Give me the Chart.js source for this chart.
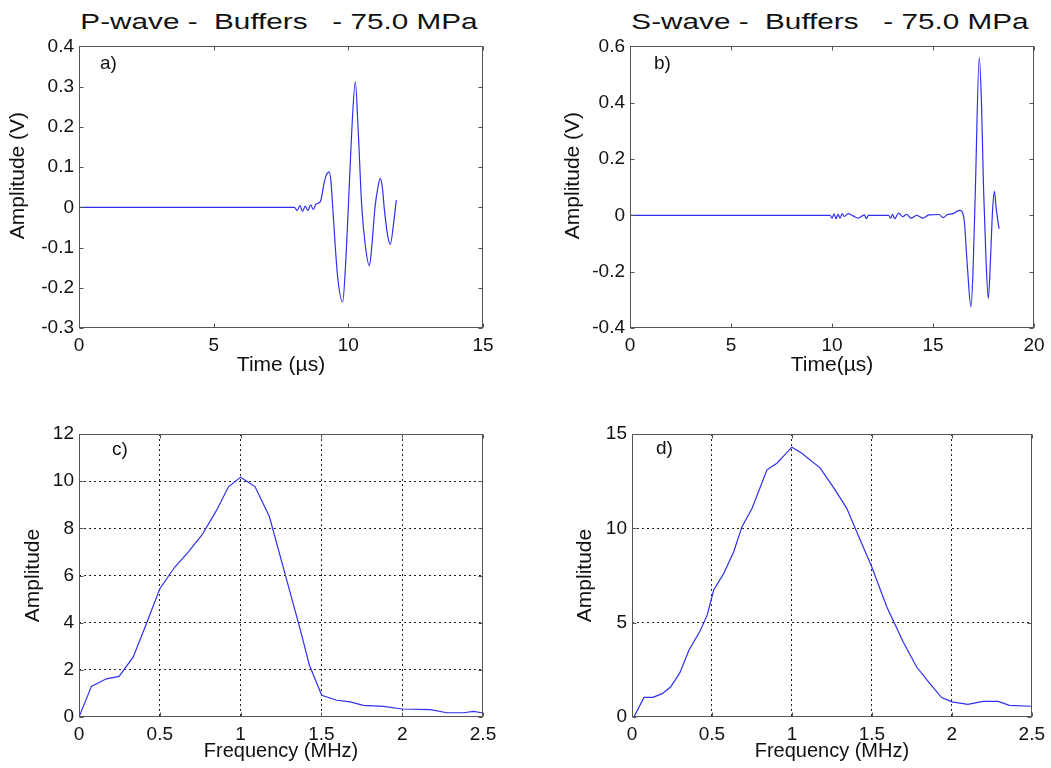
<!DOCTYPE html>
<html>
<head>
<meta charset="utf-8">
<script src="https://cdn.jsdelivr.net/npm/chart.js@4.4.1/dist/chart.umd.min.js"></script>
<style>
  body { margin: 0; width: 1051px; height: 768px; background: #fff; position: relative; overflow: hidden; }
  .title {
    position: absolute; top: 11px; font: 22px "Liberation Sans", Arial, sans-serif; line-height: 1;
    color: #111; white-space: pre; transform: translateX(-50%) scaleX(1.35);
  }
  canvas { position: absolute; }
</style>
</head>
<body>
<div class="title" style="left:279px">P-wave -  Buffers   - 75.0 MPa</div>
<div class="title" style="left:830px">S-wave -  Buffers   - 75.0 MPa</div>
<canvas id="pWave" width="520" height="370" style="left:0;top:30px"></canvas>
<canvas id="sWave" width="511" height="370" style="left:540px;top:30px"></canvas>
<canvas id="pSpectrum" width="520" height="368" style="left:0;top:400px"></canvas>
<canvas id="sSpectrum" width="511" height="368" style="left:540px;top:400px"></canvas>
<script>
// P-wave trace (time in µs, amplitude in V)
const pTime = [0, 8.0, 8.1, 8.2, 8.3, 8.4, 8.5, 8.6, 8.7, 8.8, 8.96, 9.1, 9.18, 9.29, 9.36, 9.42, 9.6, 9.79, 9.9, 10.0,
  10.12, 10.26, 10.36, 10.5, 10.64, 10.78, 10.88, 10.99, 11.1, 11.19, 11.27, 11.33, 11.46, 11.56, 11.68, 11.78];
const pAmp = [0, 0, -0.008, 0.004, -0.01, 0.003, -0.008, 0.006, -0.005, 0.008, 0.014, 0.06, 0.08, 0.088, 0.06, 0, -0.17, -0.235, -0.14, 0,
  0.18, 0.312, 0.2, 0, -0.1, -0.145, -0.09, 0, 0.05, 0.072, 0.045, 0, -0.07, -0.092, -0.04, 0.018];

// S-wave trace
const sTime = [0, 9.9, 10.0, 10.1, 10.2, 10.3, 10.4, 10.5, 10.6, 10.8, 11.0, 11.3, 11.6, 11.7, 11.8, 12.8, 12.9, 13.0, 13.1, 13.3,
  13.5, 13.7, 13.9, 14.2, 14.5, 14.8, 15.3, 15.5, 15.7, 16.0, 16.2, 16.34, 16.45, 16.55, 16.7, 16.88, 16.98, 17.1, 17.29, 17.4,
  17.5, 17.62, 17.74, 17.85, 17.95, 18.04, 18.12, 18.27];
const sAmp = [0, 0, -0.01, 0.005, -0.012, 0.004, -0.01, 0.006, -0.004, 0.006, 0, -0.01, 0.002, -0.012, 0, 0, -0.01, 0.004, -0.012, 0.008,
  -0.005, 0.004, -0.01, 0, -0.01, 0.002, 0.003, -0.008, 0.002, 0.006, 0.015, 0.018, 0.012, -0.02, -0.18, -0.325, -0.2, 0.1, 0.56, 0.4,
  0.1, -0.15, -0.295, -0.15, 0.02, 0.085, 0.03, -0.048];

// P-wave spectrum (MHz)
const pFreq = [0, 0.077, 0.169, 0.248, 0.335, 0.417, 0.5, 0.593, 0.676, 0.762, 0.851, 0.924, 1.0, 1.089, 1.178, 1.275,
  1.368, 1.426, 1.502, 1.595, 1.678, 1.76, 1.884, 2.0, 2.174, 2.277, 2.38, 2.442, 2.5];
const pSpec = [0, 1.3, 1.62, 1.72, 2.54, 3.95, 5.44, 6.36, 6.99, 7.73, 8.76, 9.75, 10.17, 9.77, 8.5, 6.07,
  3.74, 2.19, 0.92, 0.71, 0.64, 0.49, 0.45, 0.34, 0.31, 0.18, 0.18, 0.24, 0.17];

// S-wave spectrum
const sFreq = [0.012, 0.075, 0.131, 0.189, 0.241, 0.299, 0.356, 0.428, 0.47, 0.511, 0.574, 0.636, 0.688, 0.751, 0.844, 0.906,
  1.0, 1.062, 1.177, 1.27, 1.343, 1.405, 1.499, 1.593, 1.696, 1.78, 1.863, 1.936, 2.0, 2.1, 2.195, 2.289, 2.36, 2.5];
const sSpec = [0, 1.04, 1.04, 1.24, 1.59, 2.34, 3.54, 4.6, 5.4, 6.73, 7.61, 8.76, 10.09, 11.06, 13.1, 13.45,
  14.3, 13.98, 13.19, 12.04, 11.06, 9.82, 7.96, 5.84, 3.98, 2.65, 1.77, 1.03, 0.8, 0.67, 0.83, 0.83, 0.62, 0.57];

// axis ticks
const pTimeTicks = [0, 5, 10, 15];
const pAmpTicks = [-0.3, -0.2, -0.1, 0, 0.1, 0.2, 0.3, 0.4];
const sTimeTicks = [0, 5, 10, 15, 20];
const sAmpTicks = [-0.4, -0.2, 0, 0.2, 0.4, 0.6];
const freqTicks = [0, 0.5, 1, 1.5, 2, 2.5];
const pSpecTicks = [0, 2, 4, 6, 8, 10, 12];
const sSpecTicks = [0, 5, 10, 15];

const FONT = "'Liberation Sans', Arial, sans-serif";
const LINE = "#2f2ff0";

// matlab-style box with inward ticks + panel tag
const boxPlugin = {
  id: "box",
  afterDraw(chart, args, opts) {
    const { ctx, chartArea: a, scales } = chart;
    const L = Math.round(a.left) + 0.5, R = Math.round(a.right) - 0.5;
    const T = Math.round(a.top) + 0.5, B = Math.round(a.bottom) - 0.5;
    ctx.save();
    ctx.strokeStyle = "#555";
    ctx.lineWidth = 1;
    ctx.strokeRect(L, T, R - L, B - T);
    ctx.beginPath();
    scales.x.ticks.forEach((t) => {
      const px = Math.round(scales.x.getPixelForValue(t.value)) + 0.5;
      ctx.moveTo(px, B); ctx.lineTo(px, B - 4);
      ctx.moveTo(px, T); ctx.lineTo(px, T + 4);
    });
    scales.y.ticks.forEach((t) => {
      const py = Math.round(scales.y.getPixelForValue(t.value)) + 0.5;
      ctx.moveTo(L, py); ctx.lineTo(L + 4, py);
      ctx.moveTo(R, py); ctx.lineTo(R - 4, py);
    });
    ctx.stroke();
    ctx.fillStyle = "#111";
    ctx.font = "19px " + FONT;
    ctx.textBaseline = "middle";
    ctx.fillText(opts.tag, a.left + opts.dx, a.top + opts.dy);
    ctx.restore();
  },
};

function makeChart(id, cfg) {
  const last = (arr) => arr[arr.length - 1];
  return new Chart(document.getElementById(id), {
    type: "line",
    data: {
      datasets: [{
        data: cfg.xs.map((x, i) => ({ x: x, y: cfg.ys[i] })),
        borderColor: LINE,
        borderWidth: 1.2,
        pointRadius: 0,
        fill: false,
        cubicInterpolationMode: cfg.smooth ? "monotone" : "default",
        tension: 0,
      }],
    },
    options: {
      responsive: false,
      animation: false,
      devicePixelRatio: 1,
      layout: { padding: cfg.padding },
      plugins: {
        legend: { display: false },
        tooltip: { enabled: false },
        box: { tag: cfg.tag, dx: cfg.tagPos[0], dy: cfg.tagPos[1] },
      },
      scales: {
        x: {
          type: "linear",
          min: cfg.xTicks[0],
          max: last(cfg.xTicks),
          afterBuildTicks: (s) => { s.ticks = cfg.xTicks.map((v) => ({ value: v })); },
          afterFit: (s) => { s.height = cfg.xHeight; },
          border: { display: false, dash: [2, 3] },
          grid: {
            display: cfg.grid,
            drawTicks: false,
            color: (c) => (c.tick && (c.tick.value === cfg.xTicks[0] || c.tick.value === last(cfg.xTicks)) ? "rgba(0,0,0,0)" : "#222"),
          },
          ticks: { padding: 6, color: "#111", font: { family: FONT, size: 19 }, maxRotation: 0, callback: (v) => String(v) },
          title: { display: true, text: cfg.xTitle, color: "#111", font: { family: FONT, size: cfg.xTitleSize }, padding: { bottom: cfg.xTitlePad } },
        },
        y: {
          type: "linear",
          min: cfg.yTicks[0],
          max: last(cfg.yTicks),
          afterBuildTicks: (s) => { s.ticks = cfg.yTicks.map((v) => ({ value: v })); },
          afterFit: (s) => { s.width = cfg.yWidth; },
          border: { display: false, dash: [2, 3] },
          grid: {
            display: cfg.grid,
            drawTicks: false,
            color: (c) => (c.tick && (c.tick.value === cfg.yTicks[0] || c.tick.value === last(cfg.yTicks)) ? "rgba(0,0,0,0)" : "#222"),
          },
          ticks: { padding: 5, color: "#111", font: { family: FONT, size: 19 }, callback: (v) => String(v) },
          title: { display: true, text: cfg.yTitle, color: "#111", font: { family: FONT, size: 21 }, padding: { top: cfg.yTitlePad } },
        },
      },
    },
    plugins: [boxPlugin],
  });
}

// a) P-wave
makeChart("pWave", {
  xs: pTime, ys: pAmp, smooth: true, grid: false,
  xTicks: pTimeTicks, yTicks: pAmpTicks,
  xTitle: "Time (\u00b5s)", yTitle: "    Amplitude (V)",
  padding: { left: 0, top: 15, right: 37, bottom: 0 },
  xHeight: 72, yWidth: 79, xTitleSize: 21, xTitlePad: 22, yTitlePad: 6,
  tag: "a)", tagPos: [21, 17],
});

// b) S-wave
makeChart("sWave", {
  xs: sTime, ys: sAmp, smooth: true, grid: false,
  xTicks: sTimeTicks, yTicks: sAmpTicks,
  xTitle: "Time(\u00b5s)", yTitle: "    Amplitude (V)",
  padding: { left: 0, top: 15, right: 17, bottom: 0 },
  xHeight: 72, yWidth: 90, xTitleSize: 21, xTitlePad: 22, yTitlePad: 21,
  tag: "b)", tagPos: [24, 17],
});

// c) P-wave spectrum
makeChart("pSpectrum", {
  xs: pFreq, ys: pSpec, smooth: false, grid: true,
  xTicks: freqTicks, yTicks: pSpecTicks,
  xTitle: "Frequency (MHz)", yTitle: "Amplitude",
  padding: { left: 0, top: 34, right: 37, bottom: 0 },
  xHeight: 51, yWidth: 79, xTitleSize: 20, xTitlePad: 5, yTitlePad: 21,
  tag: "c)", tagPos: [33, 16],
});

// d) S-wave spectrum
makeChart("sSpectrum", {
  xs: sFreq, ys: sSpec, smooth: false, grid: true,
  xTicks: freqTicks, yTicks: sSpecTicks,
  xTitle: "Frequency (MHz)", yTitle: "Amplitude",
  padding: { left: 0, top: 34, right: 17, bottom: 0 },
  xHeight: 51, yWidth: 92, xTitleSize: 20, xTitlePad: 5, yTitlePad: 33,
  tag: "d)", tagPos: [24, 15],
});
</script>
</body>
</html>
